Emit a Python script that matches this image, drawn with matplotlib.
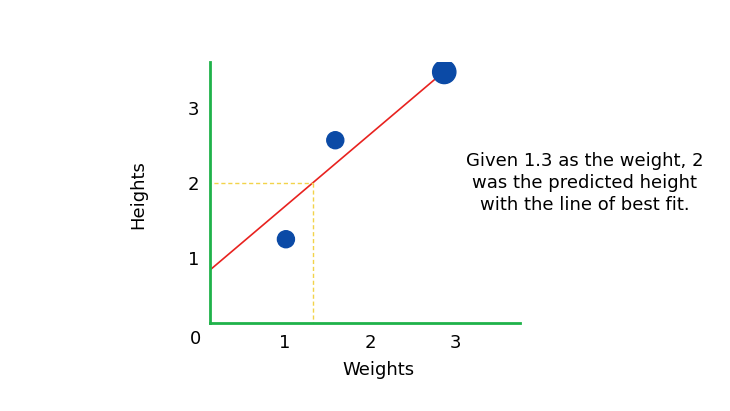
import matplotlib.pyplot as plt

weights = [1.01, 1.59, 2.87]
heights = [1.25, 2.57, 3.48]
sizes = [150, 150, 280]
line_x = [0.118, 2.82]
line_y = [0.84, 3.44]
given_w = 1.33
pred_h = 2.0
ticks = [1, 2, 3]

fig = plt.figure(figsize=(7.3, 4.11), dpi=100)
ax = fig.add_axes([210 / 730, 88 / 411, 310 / 730, 261 / 411])

ax.plot(line_x, line_y, color='#e8221f', lw=1.2, zorder=2)
ax.plot([given_w, given_w], [0, pred_h], color='#f2d34a', ls='--', lw=1, dashes=(3, 2))
ax.plot([0, given_w], [pred_h, pred_h], color='#f2d34a', ls='--', lw=1, dashes=(3, 2))
ax.scatter(weights, heights, s=sizes, color='#0b4aa6', zorder=3)

ax.set_xlim(0.118, 3.76)
ax.set_ylim(0.133, 3.613)
for s in ['top', 'right']:
    ax.spines[s].set_visible(False)
for s in ['left', 'bottom']:
    ax.spines[s].set_color('#1fb24a')
    ax.spines[s].set_linewidth(2)
ax.set_xticks(ticks)
ax.set_yticks(ticks)
ax.tick_params(length=0, labelsize=13, pad=8)
ax.text(-0.05, 0.04, '0', fontsize=13, transform=ax.transData, ha='center', va='top')

fig.text(378 / 730, 1 - 370 / 411, 'Weights', fontsize=13, ha='center', va='center')
fig.text(138 / 730, 1 - 195 / 411, 'Heights', fontsize=13, ha='center', va='center', rotation=90)
fig.text(585 / 730, 1 - 183 / 411,
         'Given 1.3 as the weight, 2\nwas the predicted height\nwith the line of best fit.',
         fontsize=13, ha='center', va='center', linespacing=1.3)

fig.savefig('out.png', dpi=100)
